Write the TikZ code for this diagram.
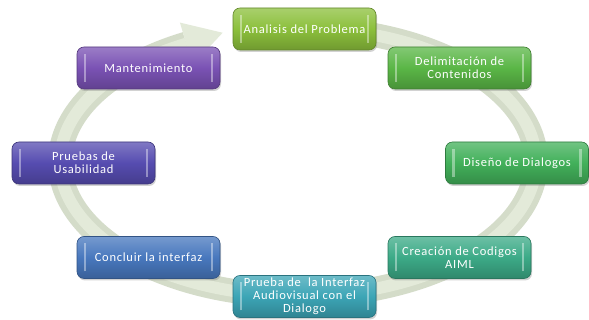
\documentclass[tikz,border=0pt]{standalone}
\usepackage{fontspec}
\newfontfamily\etapafont{Carlito}[LetterSpace=6]
\usetikzlibrary{calc,shadows}

\definecolor{anillo}{RGB}{212,220,201}
\definecolor{anilloclaro}{RGB}{227,234,217}
\definecolor{cAnalisis}{RGB}{140,192,60}
\definecolor{cDelimitacion}{RGB}{90,182,70}
\definecolor{cDiseno}{RGB}{66,176,90}
\definecolor{cCreacion}{RGB}{60,170,135}
\definecolor{cPrueba}{RGB}{60,165,182}
\definecolor{cConcluir}{RGB}{72,120,190}
\definecolor{cUsabilidad}{RGB}{86,76,176}
\definecolor{cMantenimiento}{RGB}{122,82,180}

\begin{document}
\begin{tikzpicture}[x=1pt, y=1pt,
    etapa/.style={rounded corners=7pt, minimum width=143pt, minimum height=42pt,
        inner sep=0pt, align=center, text=white,
        font=\etapafont\fontsize{12.5}{13}\selectfont,
        draw=#1!70!black, line width=0.6pt,
        top color=#1!75!white, bottom color=#1!80!black, middle color=#1,
        drop shadow={opacity=0.35, shadow xshift=1pt, shadow yshift=-2pt},
        path picture={
            \draw[white, opacity=0.4, line width=2.2pt]
                ($(path picture bounding box.south west)+(8,7)$) -- ($(path picture bounding box.north west)+(8,-7)$)
                ($(path picture bounding box.south east)+(-8,7)$) -- ($(path picture bounding box.north east)+(-8,-7)$);
        }}]
    \fill[white] (0,0) rectangle (589,320);
    \useasboundingbox (0,0) rectangle (589,320);

    \coordinate (C) at (298,158);
    \coordinate (B) at ($(C)+(118:238 and 134)$);

    % circular arrow behind the stages
    \draw[anillo, line width=24pt] ($(C)+(80:238 and 134)$)
        arc[start angle=80, end angle=-242, x radius=238, y radius=134];
    \draw[anilloclaro, line width=12pt] ($(C)+(80:238 and 134)$)
        arc[start angle=80, end angle=-242, x radius=238, y radius=134];
    \fill[anilloclaro] ($(B)+(106.7:22)$) -- ($(B)+(16.7:38)$) -- ($(B)+(-73.3:22)$) -- cycle;

    \node[etapa=cAnalisis] (analisis) at (304.5,291) {Analisis del Problema};
    \node[etapa=cDelimitacion] (delimitacion) at (459.5,252) {Delimitación de\\Contenidos};
    \node[etapa=cDiseno] (diseno) at (517,157) {Diseño de Dialogos};
    \node[etapa=cCreacion] (creacion) at (459.5,62.5) {Creación de Codigos\\AIML};
    \node[etapa=cPrueba] (prueba) at (304.5,23.5) {Prueba de~ la Interfaz\\Audiovisual con el\\Dialogo};
    \node[etapa=cConcluir] (concluir) at (148.5,62.5) {Concluir la interfaz};
    \node[etapa=cUsabilidad] (usabilidad) at (83.5,157) {Pruebas de\\Usabilidad};
    \node[etapa=cMantenimiento] (mantenimiento) at (148.5,252) {Mantenimiento};
\end{tikzpicture}
\end{document}
